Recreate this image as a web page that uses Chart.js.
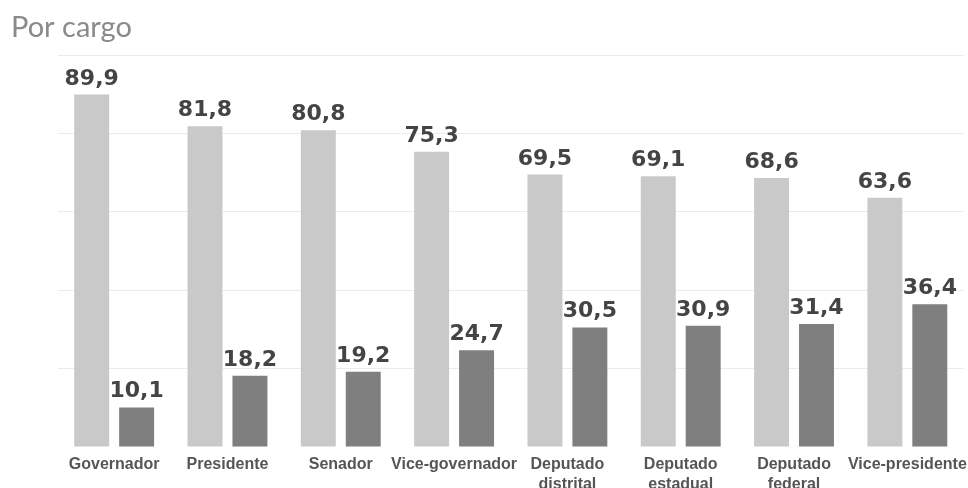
<!DOCTYPE html>
<html lang="pt">
<head>
<meta charset="utf-8">
<title>Por cargo</title>
<script src="https://cdn.jsdelivr.net/npm/chart.js@4/dist/chart.umd.min.js"></script>
<style>
    html, body { margin: 0; padding: 0; background: #ffffff; overflow: hidden; }
    #wrap { width: 968px; height: 488px; position: relative; }
</style>
</head>
<body>
<div id="wrap"><canvas id="myChart"></canvas></div>
<script>
// Dados do gráfico
const cargos = [
    'Governador',
    'Presidente',
    'Senador',
    'Vice-governador',
    ['Deputado', 'distrital'],
    ['Deputado', 'estadual'],
    ['Deputado', 'federal'],
    'Vice-presidente'
];
const serieClara = [89.9, 81.8, 80.8, 75.3, 69.5, 69.1, 68.6, 63.6];
const serieEscura = [10.1, 18.2, 19.2, 24.7, 30.5, 30.9, 31.4, 36.4];
const ticksY = [0, 20, 40, 60, 80, 100];

// Rótulos em cima das barras
const rotulosBarras = {
    id: 'rotulosBarras',
    afterDatasetsDraw(chart) {
        const ctx = chart.ctx;
        ctx.save();
        ctx.font = 'bold 22px "DejaVu Sans"';
        ctx.fillStyle = '#444444';
        ctx.textAlign = 'center';
        ctx.textBaseline = 'alphabetic';
        chart.data.datasets.forEach((ds, i) => {
            const meta = chart.getDatasetMeta(i);
            meta.data.forEach((bar, j) => {
                const txt = ds.data[j].toFixed(1).replace('.', ',');
                ctx.fillText(txt, bar.x, bar.y - 10);
            });
        });
        ctx.restore();
    }
};

const ctx = document.getElementById('myChart').getContext('2d');
new Chart(ctx, {
    type: 'bar',
    data: {
        labels: cargos,
        datasets: [
            {
                label: 'A',
                data: serieClara,
                backgroundColor: '#c9c9c9',
                categoryPercentage: 0.793,
                barPercentage: 0.778
            },
            {
                label: 'B',
                data: serieEscura,
                backgroundColor: '#7f7f7f',
                categoryPercentage: 0.793,
                barPercentage: 0.778
            }
        ]
    },
    options: {
        responsive: true,
        maintainAspectRatio: false,
        animation: false,
        layout: {
            padding: { left: 11, right: 4, top: 0, bottom: 0 }
        },
        plugins: {
            legend: { display: false },
            tooltip: { enabled: false },
            title: {
                display: true,
                text: 'Por cargo',
                align: 'start',
                color: '#8a8a8a',
                font: { family: 'Lato', size: 29, weight: 'normal', lineHeight: 1.2 },
                padding: { top: 10, bottom: 10.2 }
            }
        },
        scales: {
            x: {
                grid: { display: false, drawTicks: false },
                border: { display: false },
                ticks: {
                    color: '#555555',
                    font: { family: '"Liberation Sans"', size: 16, weight: 'bold', lineHeight: 1.25 },
                    padding: 8,
                    maxRotation: 0,
                    autoSkip: false
                },
                afterFit(scale) {
                    scale.height = 41;
                    scale.paddingLeft = 0;
                    scale.paddingRight = 0;
                }
            },
            y: {
                min: 0,
                max: 100,
                afterBuildTicks(scale) {
                    scale.ticks = ticksY.map(v => ({ value: v }));
                },
                grid: {
                    color: (c) => (c.tick && c.tick.value === 0 ? 'rgba(0,0,0,0)' : '#ebebeb'),
                    drawTicks: false,
                    lineWidth: 1
                },
                border: { display: false },
                ticks: { display: false },
                afterFit(scale) { scale.width = 46.5; }
            }
        }
    },
    plugins: [rotulosBarras]
});
</script>
</body>
</html>
